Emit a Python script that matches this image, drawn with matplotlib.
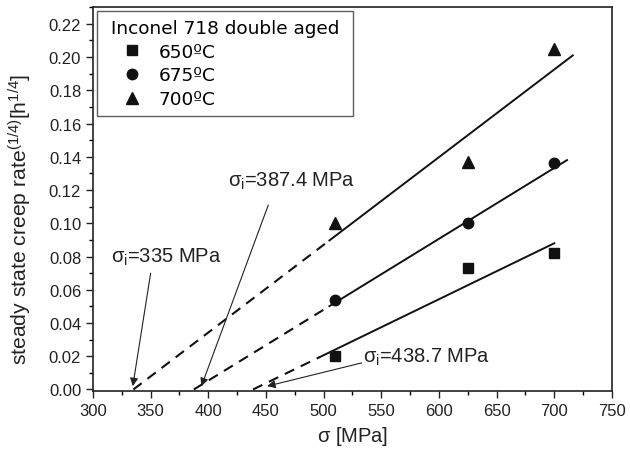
import matplotlib
matplotlib.use("Agg")
import matplotlib.pyplot as plt
from matplotlib.ticker import MultipleLocator

# data
stress = [510, 625, 700]
rate_650 = [0.020, 0.073, 0.082]
rate_675 = [0.054, 0.100, 0.136]
rate_700 = [0.100, 0.137, 0.205]
labels = ["650ºC", "675ºC", "700ºC"]

# fitted lines: intercept (threshold stress), start of solid part, end point
sigma_i = [438.7, 387.4, 335.0]
solid_start = [497, 505, 505]
fit_end_x = [700, 711, 716]
fit_end_y = [0.088, 0.138, 0.201]

ann_texts = [r"$\sigma_\mathregular{i}$=438.7 MPa", r"$\sigma_\mathregular{i}$=387.4 MPa", r"$\sigma_\mathregular{i}$=335 MPa"]
ann_text_xy = [(534, 0.020), (417, 0.126), (316, 0.080)]
ann_from_xy = [(533, 0.016), (452, 0.111), (350, 0.070)]
ann_to_x = [451, 394, 334.5]

plt.rcParams['font.family'] = ['Liberation Sans', 'DejaVu Sans']
plt.rcParams['mathtext.fontset'] = 'custom'
plt.rcParams['mathtext.rm'] = 'Liberation Sans'
plt.rcParams['mathtext.it'] = 'Liberation Sans'

fig = plt.figure(figsize=(6.3, 4.56), dpi=100)
ax = fig.add_axes([0.1476, 0.140, 0.8238, 0.842])

ax.plot(stress, rate_650, 's', color='#111111', ms=6.5, label=labels[0], zorder=3)
ax.plot(stress, rate_675, 'o', color='#111111', ms=7.5, label=labels[1], zorder=3)
ax.plot(stress, rate_700, '^', color='#111111', ms=8, label=labels[2], zorder=3)

for s0, xs, xe, ye in zip(sigma_i, solid_start, fit_end_x, fit_end_y):
    slope = ye / (xe - s0)
    ys = slope * (xs - s0)
    ax.plot([s0, xs], [0, ys], '--', color='#111111', lw=1.5, dashes=(5, 3.5))
    ax.plot([xs, xe], [ys, ye], '-', color='#111111', lw=1.4)

for t, txy, fxy, tx in zip(ann_texts, ann_text_xy, ann_from_xy, ann_to_x):
    ax.text(txy[0], txy[1], t, fontsize=14.5, va='center', ha='left', color='#222222')
    ax.annotate('', xy=(tx, 0.002), xytext=fxy,
                arrowprops=dict(arrowstyle='-|>', color='#222222', lw=0.8,
                                mutation_scale=12, shrinkA=0, shrinkB=0))

ax.set_xlim(300, 750)
ax.xaxis.set_major_locator(MultipleLocator(50))
ax.xaxis.set_minor_locator(MultipleLocator(25))
ax.yaxis.set_minor_locator(MultipleLocator(0.01))
ax.set_yticks([i * 0.02 for i in range(12)])
ax.set_yticklabels([f"{i*0.02:.2f}" for i in range(12)])
ax.set_ylim(-0.001, 0.23)
ax.tick_params(which='major', direction='out', length=5, width=1, labelsize=12, colors='#222222')
ax.tick_params(which='minor', direction='out', length=3, width=1)
for sp in ax.spines.values():
    sp.set_linewidth(1.2)
    sp.set_color('#222222')

ax.set_xlabel(r"$\sigma$ [MPa]", fontsize=14.5, color='#222222', labelpad=4)
ax.set_ylabel(r"steady state creep rate$^{\mathregular{(1/4)}}$[h$^{\mathregular{1/4}}$]", fontsize=15.2, color='#222222')
ax.yaxis.set_label_coords(-0.113, 0.45)

leg = ax.legend(title=" Inconel 718 double aged ", loc='upper left', bbox_to_anchor=(0.007, 0.99),
                frameon=True, fancybox=False, edgecolor='#333333',
                handletextpad=0.0, borderpad=0.45, labelspacing=0.3,
                handlelength=2.9, borderaxespad=0.0, prop={'family': 'DejaVu Sans', 'size': 13.3})
leg.get_title().set_family('DejaVu Sans')
leg.get_title().set_fontsize(13.3)
leg._legend_box.align = 'left'
leg.get_frame().set_linewidth(1.0)

fig.savefig("out.png", dpi=100)
